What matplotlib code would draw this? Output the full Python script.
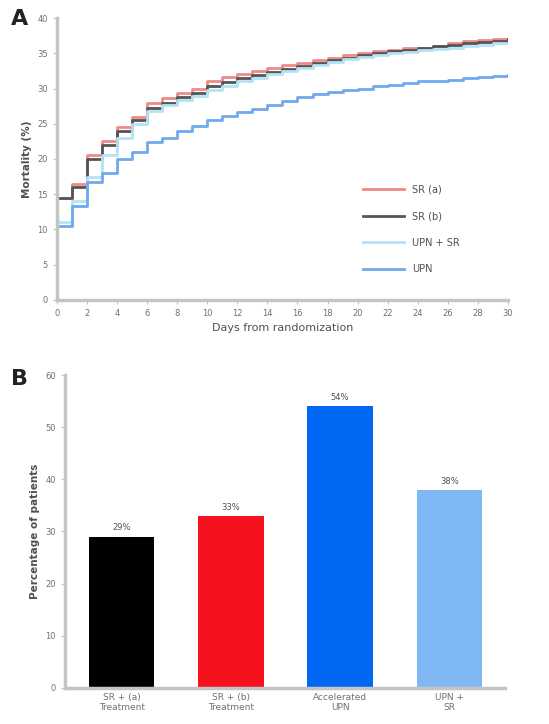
import matplotlib.pyplot as plt
import numpy as np

# Panel A: cumulative mortality
days = list(range(0, 31))
sr_a = [14.5, 16.4, 20.5, 22.6, 24.5, 26.0, 27.9, 28.6, 29.3, 30.0, 31.0, 31.6, 32.1, 32.5, 32.9, 33.3,
        33.6, 34.0, 34.3, 34.7, 35.0, 35.3, 35.5, 35.7, 35.8, 36.1, 36.4, 36.7, 36.9, 37.0, 37.1]
sr_b = [14.5, 16.0, 20.0, 22.0, 24.0, 25.5, 27.3, 28.0, 28.8, 29.4, 30.3, 30.9, 31.5, 31.9, 32.3, 32.8,
        33.2, 33.6, 34.0, 34.4, 34.8, 35.1, 35.3, 35.5, 35.7, 36.0, 36.2, 36.4, 36.6, 36.8, 37.0]
upn_sr = [11.0, 14.0, 17.5, 20.5, 23.0, 25.0, 26.8, 27.6, 28.4, 29.0, 29.8, 30.4, 31.0, 31.5, 32.0, 32.5,
          32.9, 33.4, 33.8, 34.2, 34.5, 34.8, 35.0, 35.2, 35.4, 35.6, 35.8, 36.0, 36.2, 36.4, 36.5]
upn = [10.5, 13.3, 16.7, 18.0, 20.0, 21.0, 22.4, 23.0, 24.0, 24.7, 25.5, 26.1, 26.7, 27.1, 27.6, 28.2,
       28.8, 29.2, 29.5, 29.8, 30.0, 30.3, 30.5, 30.8, 31.0, 31.1, 31.2, 31.5, 31.7, 31.8, 31.9]
series_labels = ['SR (a)', 'SR (b)', 'UPN + SR', 'UPN']
series_colors = ['#f08a8a', '#555555', '#b5e2f5', '#6fa9ee']

# Panel B: percentage of patients
bar_labels = ['SR + (a)\nTreatment', 'SR + (b)\nTreatment', 'Accelerated\nUPN', 'UPN +\nSR']
bar_values = [29, 33, 54, 38]
bar_colors = ['#000000', '#f5121e', '#0068f5', '#80b8f5']

spine_col = '#c4c4c4'
tick_col = '#707070'

fig = plt.figure(figsize=(5.49, 7.24), dpi=100)

# ---- A ----
ax1 = fig.add_axes([0.104, 0.586, 0.821, 0.389])
for ys, lab, col in zip([sr_a, sr_b, upn_sr, upn], series_labels, series_colors):
    ax1.step([0] + days, [0] + ys, where='post', color=col, lw=2.0, label=lab)
ax1.set_xlim(0, 30)
ax1.set_ylim(0, 40)
ax1.set_xticks(np.arange(0, 31, 2))
ax1.set_yticks(np.arange(0, 41, 5))
ax1.set_xlabel('Days from randomization', fontsize=8, color='#505050')
ax1.set_ylabel('Mortality (%)', fontsize=7.5, color='#505050', fontweight='bold')
ax1.legend(loc='upper left', bbox_to_anchor=(0.66, 0.44), frameon=False,
           fontsize=7, handlelength=4.2, labelspacing=1.7, labelcolor='#505050')

# ---- B ----
ax2 = fig.add_axes([0.118, 0.050, 0.802, 0.432])
x = np.arange(len(bar_values))
bars = ax2.bar(x, bar_values, width=0.6, color=bar_colors)
for xi, v in zip(x, bar_values):
    ax2.text(xi, v + 0.8, f'{v}%', ha='center', va='bottom', fontsize=6, color='#505050')
ax2.set_xlim(-0.52, 3.51)
ax2.set_ylim(0, 60)
ax2.set_yticks(np.arange(0, 61, 10))
ax2.set_xticks(x)
ax2.set_xticklabels(bar_labels, fontsize=6.5, color='#505050')
ax2.set_ylabel('Percentage of patients', fontsize=7.5, color='#505050', fontweight='bold')

for ax in (ax1, ax2):
    for s in ['top', 'right']:
        ax.spines[s].set_visible(False)
    for s in ['left', 'bottom']:
        ax.spines[s].set_color(spine_col)
        ax.spines[s].set_linewidth(2.5)
    ax.tick_params(colors=spine_col, labelcolor=tick_col, labelsize=6, length=3)

ax2.tick_params(axis='x', length=0, labelsize=6.5)

fig.text(0.02, 0.965, 'A', fontsize=16, fontweight='bold', color='#222222')
fig.text(0.02, 0.468, 'B', fontsize=16, fontweight='bold', color='#222222')

plt.savefig('out.png', dpi=100)
